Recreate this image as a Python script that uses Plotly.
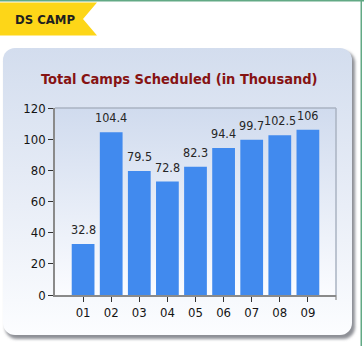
import base64
import plotly.graph_objects as go

# Monthly camp counts (thousands)
months = ["01", "02", "03", "04", "05", "06", "07", "08", "09"]
camps = [32.8, 104.4, 79.5, 72.8, 82.3, 94.4, 99.7, 102.5, 106]
y_ticks = [0, 20, 40, 60, 80, 100, 120]

W, H = 364, 346
L, R, T, B = 55, 28, 108, 51
PW, PH = W - L - R, H - T - B

FONT = "DejaVu Sans Condensed, DejaVu Sans, sans-serif"


def px(x):
    return (x - L) / PW


def py(y):
    return (H - B - y) / PH


# Page decoration: card with gradient + shadow, plot-area gradient, header tab
svg = f"""<svg xmlns='http://www.w3.org/2000/svg' width='{W}' height='{H}' viewBox='0 0 {W} {H}'>
<defs>
<linearGradient id='card' x1='0' y1='0' x2='0' y2='1'>
<stop offset='0' stop-color='#d3ddee'/><stop offset='0.55' stop-color='#e9eef7'/><stop offset='1' stop-color='#fcfdff'/>
</linearGradient>
<linearGradient id='plot' x1='0' y1='0' x2='0' y2='1'>
<stop offset='0' stop-color='#d0dbee'/><stop offset='1' stop-color='#fbfcff'/>
</linearGradient>
<filter id='sh' x='-10%' y='-10%' width='120%' height='120%'>
<feGaussianBlur stdDeviation='1.6'/>
</filter>
</defs>
<rect x='0' y='0' width='{W}' height='{H}' fill='#ffffff'/>
<rect x='5' y='51' width='350' height='288' rx='12' fill='#8e9096' filter='url(#sh)'/>
<rect x='3' y='48' width='349' height='287' rx='12' fill='url(#card)'/>
<rect x='{L}' y='{T}' width='{PW}' height='{PH}' fill='url(#plot)'/>
<rect x='0' y='0' width='{W}' height='1.5' fill='#62a985'/>
<rect x='360.5' y='0' width='1.5' height='{H}' fill='#62a985'/>
<polygon points='0,2.5 97,2.5 83,19 97,35.5 0,35.5' fill='#fdd618'/>
</svg>"""
svg_uri = "data:image/svg+xml;base64," + base64.b64encode(svg.encode()).decode()

fig = go.Figure()
fig.add_trace(go.Bar(
    x=months, y=camps, width=0.81,
    marker=dict(color="#418aee", line=dict(width=0)),
    hoverinfo="x+y",
))

# value labels above each bar (category index positions)
annotations = [
    dict(x=i, y=v, xref="x", yref="y", text=f"{v:g}", showarrow=False,
         yanchor="bottom", yshift=5,
         font=dict(family=FONT, size=12.5, color="#262626"))
    for i, v in enumerate(camps)
]
annotations.append(dict(
    x=px(12.5), y=py(19.5), xref="paper", yref="paper", text="<b>DS CAMP</b>",
    showarrow=False, xanchor="left", yanchor="middle",
    font=dict(family=FONT, size=13, color="#1f1f1f"),
))
annotations.append(dict(
    x=px(179), y=py(79), xref="paper", yref="paper",
    text="<b>Total Camps Scheduled (in Thousand)</b>",
    showarrow=False, xanchor="center", yanchor="middle",
    font=dict(family=FONT, size=14.5, color="#861313"),
))

shapes = [
    # light frame on top and right of the plotting area
    dict(type="line", xref="paper", yref="paper", x0=0, x1=1, y0=1, y1=1,
         line=dict(color="#aab3c2", width=1.5)),
    dict(type="line", xref="paper", yref="paper", x0=1, x1=1, y0=0, y1=1,
         line=dict(color="#aab3c2", width=1.5)),
    # closing tick at the right end of the category axis
    dict(type="line", xref="paper", yref="paper", x0=1, x1=1, y0=0, y1=py(300),
         line=dict(color="#8a8a8a", width=1.2)),
]

fig.update_layout(
    width=W, height=H, autosize=False,
    margin=dict(l=L, r=R, t=T, b=B, pad=0),
    paper_bgcolor="#ffffff", plot_bgcolor="rgba(0,0,0,0)",
    showlegend=False, bargap=0.19,
    font=dict(family=FONT, size=12.5, color="#1e1e1e"),
    images=[dict(source=svg_uri, xref="paper", yref="paper",
                 x=px(0), y=py(0), sizex=W / PW, sizey=H / PH,
                 xanchor="left", yanchor="top", sizing="stretch",
                 layer="below")],
    annotations=annotations,
    shapes=shapes,
    xaxis=dict(
        type="category", categoryorder="array", categoryarray=months,
        range=[-1, 9], showgrid=False, zeroline=False,
        showline=True, linecolor="#8a8a8a", linewidth=1.5,
        ticks="outside", ticklen=5, tickwidth=1.2, tickcolor="#333333",
        tickfont=dict(family=FONT, size=13, color="#141414"),
        fixedrange=True,
    ),
    yaxis=dict(
        range=[0, 120], tickvals=y_ticks, showgrid=False, zeroline=False,
        showline=True, linecolor="#8a8a8a", linewidth=1.5,
        ticks="outside", ticklen=5, tickwidth=1.2, tickcolor="#333333",
        tickfont=dict(family=FONT, size=13, color="#141414"),
        fixedrange=True,
    ),
)

fig.write_html("out.html", config={"displayModeBar": False})
